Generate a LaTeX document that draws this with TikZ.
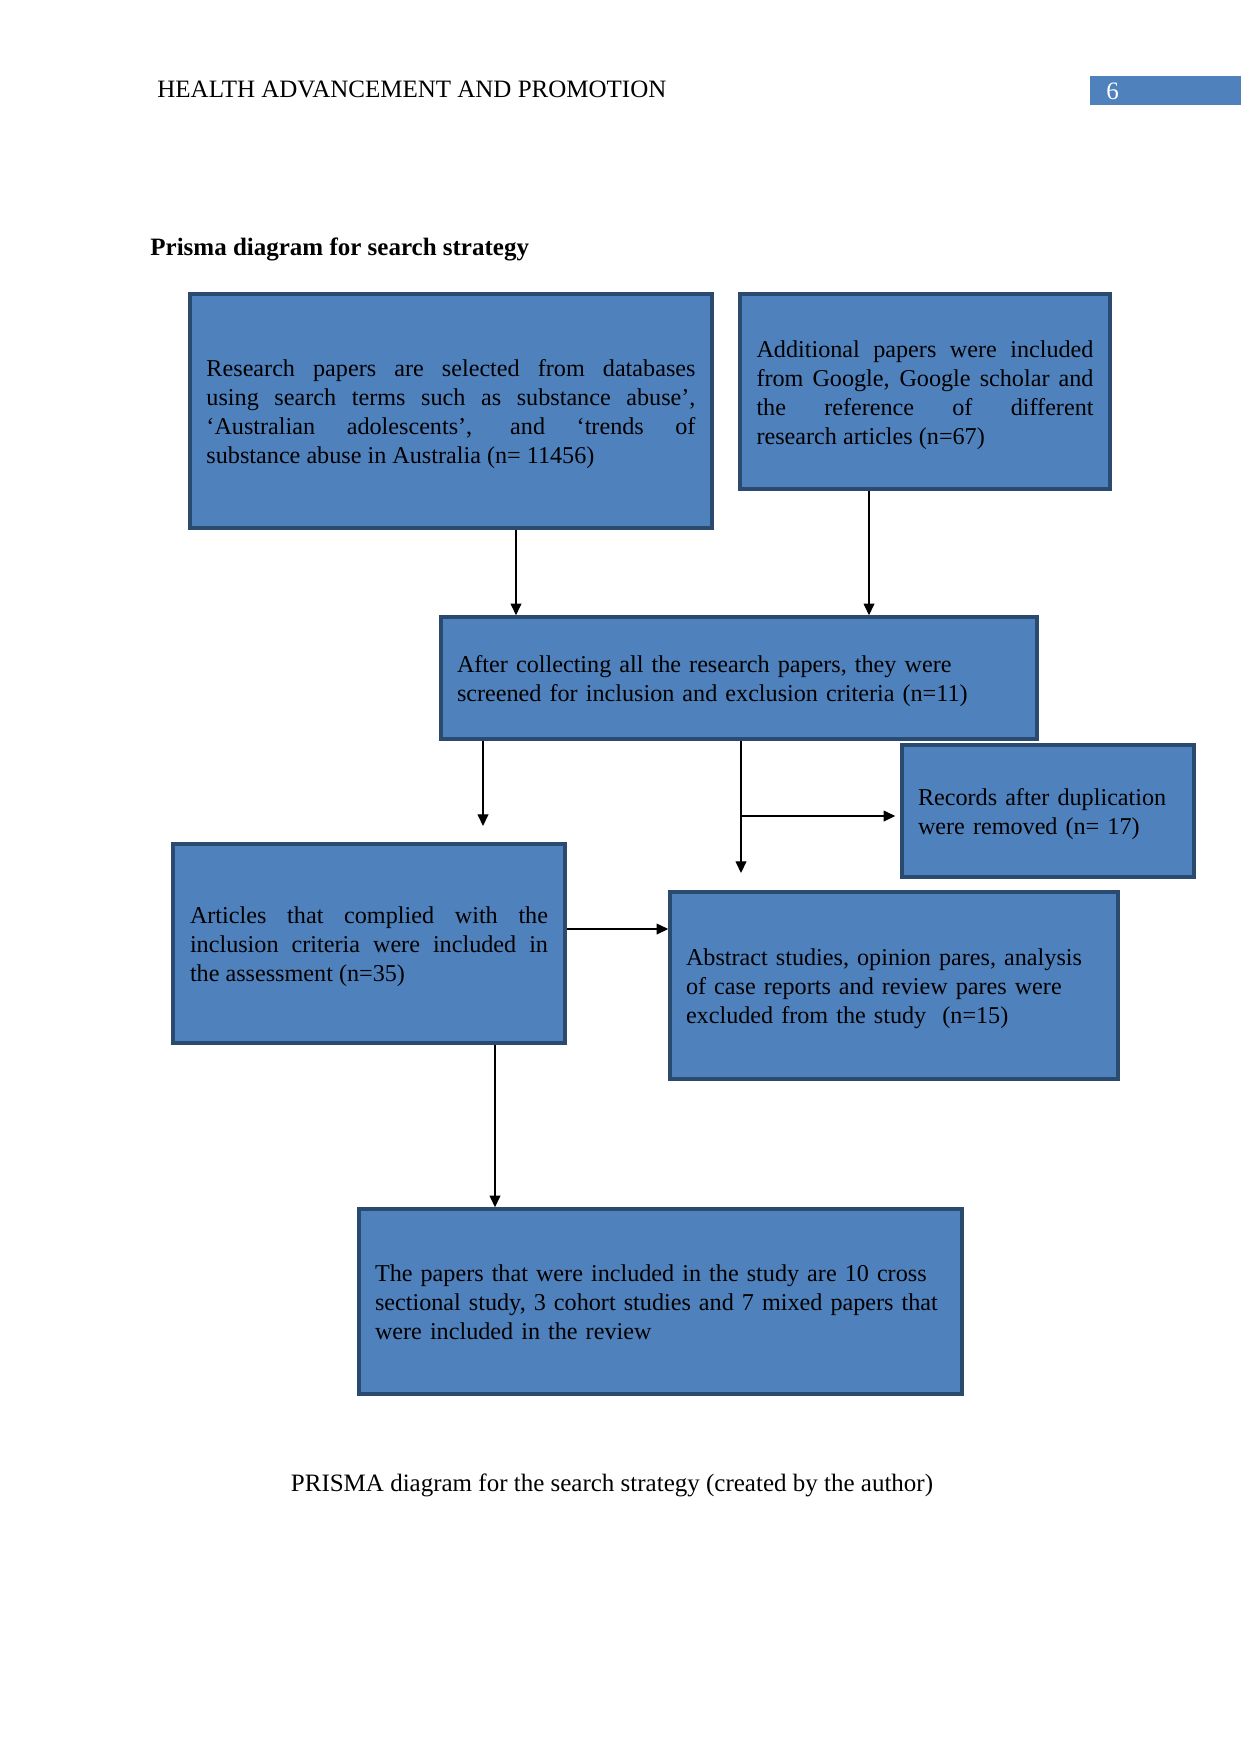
\documentclass[tikz,border=0pt]{standalone}
\usepackage{fontspec}
\setmainfont{Liberation Serif}
\usetikzlibrary{arrows.meta}
\definecolor{boxfill}{HTML}{4F81BD}
\definecolor{boxline}{HTML}{2B4A6F}
\tikzset{
  pbox/.style={draw=boxline, fill=boxfill, line width=1.7pt, inner xsep=7.68pt, inner ysep=0pt,
    font=\fontsize{11.6}{13.9}\selectfont, text=black, text height=11.3pt},
  arr/.style={line width=0.55pt, -{Triangle[length=5.6pt,width=5.2pt]}},
  plain/.style={font=\fontsize{12}{13.9}\selectfont, inner sep=0pt}
}
\begin{document}
\begin{tikzpicture}[x=0.48pt,y=-0.48pt]
\useasboundingbox (0,0) rectangle (1241,1754);
% header
\node[plain, anchor=base west] (hdr) at (157,97) {HEALTH ADVANCEMENT AND PROMOTION};
\node[fill=boxfill, minimum width=72.48pt, minimum height=13.92pt, inner sep=0pt, anchor=north west] (pg) at (1090,76) {};
\node[plain, anchor=base west, text=white] (pgn) at (1106,99) {6};
\node[plain, anchor=base west, font=\fontsize{12}{13.9}\selectfont\bfseries] (ttl) at (150,255) {Prisma diagram for search strategy};
% boxes
\node[pbox, text width=234.72pt, minimum width=250.56pt, minimum height=112.32pt, align=justify] (b1) at (451,411)
 {Research papers are selected from databases\linebreak using search terms such as substance abuse’,\linebreak ‘Australian adolescents’, and ‘trends of\linebreak substance abuse in Australia (n= 11456)};
\node[pbox, text width=161.76pt, minimum width=177.6pt, minimum height=93.6pt, align=justify] (b2) at (925,391.5)
 {Additional papers were included\linebreak from Google, Google scholar and\linebreak the reference of different\linebreak research articles (n=67)};
\node[pbox, text width=270.72pt, minimum width=286.08pt, minimum height=58.56pt, align=left] (b3) at (739,678)
 {After collecting all the research papers, they were\\ screened for inclusion and exclusion criteria (n=11)};
\node[pbox, text width=124.8pt, minimum width=140.16pt, minimum height=63.36pt, align=left] (b4) at (1048,811)
 {Records after duplication\\ were removed (n= 17)};
\node[pbox, text width=171.84pt, minimum width=188.16pt, minimum height=95.52pt, align=justify] (b5) at (369,943.5)
 {Articles that complied with the\linebreak inclusion criteria were included in\linebreak the assessment (n=35)};
\node[pbox, text width=199.68pt, minimum width=215.04pt, minimum height=89.76pt, align=left] (b6) at (894,985.5)
 {Abstract studies, opinion pares, analysis\\ of case reports and review pares were\\ excluded from the study\ \ (n=15)};
\node[pbox, text width=274.08pt, minimum width=289.44pt, minimum height=88.8pt, align=left, text height=8.3pt] (b7) at (660.5,1301.5)
 {The papers that were included in the study are 10 cross\\ sectional study, 3 cohort studies and 7 mixed papers that\\ were included in the review};
% caption
\node[plain, anchor=base] (cap) at (612,1491) {PRISMA diagram for the search strategy (created by the author)};
% connector helpers
\coordinate (c1) at (516,0);
\coordinate (c2) at (869,0);
\coordinate (c3) at (483,0);
\coordinate (t3) at (483,826);
\coordinate (c4) at (741,0);
\coordinate (t4) at (741,873);
\coordinate (j5) at (741,816);
\coordinate (c6) at (0,929);
\coordinate (c7) at (495,0);
% connectors
\draw[arr] (b1.south -| c1) -- (b3.north -| c1);
\draw[arr] (b2.south -| c2) -- (b3.north -| c2);
\draw[arr] (b3.south -| c3) -- (t3);
\draw[arr] (b3.south -| c4) -- (t4);
\draw[arr, shorten >=2.4pt] (j5) -- (b4.west |- j5);
\draw[arr] (b5.east |- c6) -- (b6.west |- c6);
\draw[arr] (b5.south -| c7) -- (b7.north -| c7);
\end{tikzpicture}
\end{document}
